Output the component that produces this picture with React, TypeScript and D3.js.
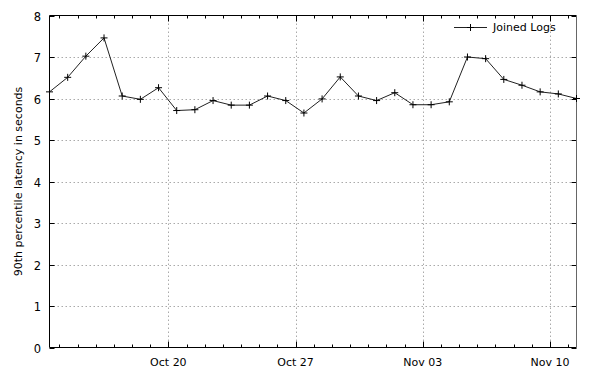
import React from "react";
import * as d3 from "d3";

const startDate = new Date(Date.UTC(2008, 9, 13, 11));
const latency = [6.16, 6.51, 7.02, 7.46, 6.06, 5.98, 6.26, 5.71, 5.73, 5.95, 5.84, 5.84, 6.06, 5.95, 5.65, 5.99, 6.52, 6.06, 5.95, 6.14, 5.85, 5.85, 5.92, 7.0, 6.96, 6.46, 6.32, 6.16, 6.11, 6.0];
const majorDates = ["2008-10-20", "2008-10-27", "2008-11-03", "2008-11-10"];
const yTicks = [0, 1, 2, 3, 4, 5, 6, 7, 8];
const seriesName = "Joined Logs";
const yLabel = "90th percentile latency in seconds";

const W = 594, H = 380;
const L = 49.5, R = 576.5, T = 15.5, B = 347.5;
const FONT = "DejaVu Sans, sans-serif";

export default function App() {
  const data = latency.map((v, i) => ({ d: d3.utcDay.offset(startDate, i), v }));
  const x = d3.scaleUtc().domain([data[0].d, data[data.length - 1].d]).range([L, R]);
  const y = d3.scaleLinear().domain([0, 8]).range([B, T]);
  const fmt = d3.utcFormat("%b %d");
  const minor = d3.utcDay.range(d3.utcDay.ceil(data[0].d), data[data.length - 1].d);
  const majors = majorDates.map((s) => new Date(s + "T00:00:00Z"));
  const line = d3.line<{ d: Date; v: number }>().x((p) => x(p.d)).y((p) => y(p.v));
  const cross = (cx: number, cy: number, k: string) => (
    <path key={k} d={`M${cx - 3.5},${cy}H${cx + 3.5}M${cx},${cy - 3.5}V${cy + 3.5}`} stroke="#000" strokeWidth={1} />
  );
  return (
    <svg width={W} height={H} style={{ position: "absolute", left: 0, top: 0, background: "#fff" }} fontFamily={FONT}>
      <rect width={W} height={H} fill="#fff" />
      {/* grid */}
      {yTicks.slice(1, -1).map((t) => (
        <line key={"gy" + t} x1={L} x2={R} y1={Math.round(y(t)) + 0.5} y2={Math.round(y(t)) + 0.5} stroke="#aaa" strokeDasharray="1.5,2.5" />
      ))}
      {majors.map((m, i) => (
        <line key={"gx" + i} x1={Math.round(x(m)) + 0.5} x2={Math.round(x(m)) + 0.5} y1={T} y2={B} stroke="#aaa" strokeDasharray="1.5,2.5" />
      ))}
      {/* minor ticks */}
      {minor.map((m, i) => {
        const px = Math.round(x(m)) + 0.5;
        const isMajor = majors.some((mm) => +mm === +m);
        const len = isMajor ? 6 : 3;
        return (
          <g key={"mt" + i}>
            <line x1={px} x2={px} y1={B} y2={B - len} stroke="#000" />
            <line x1={px} x2={px} y1={T} y2={T + len} stroke="#000" />
          </g>
        );
      })}
      {/* y ticks */}
      {yTicks.map((t) => {
        const py = Math.round(y(t)) + 0.5;
        return (
          <g key={"yt" + t}>
            <line x1={L} x2={L + 5} y1={py} y2={py} stroke="#000" />
            <line x1={R} x2={R - 5} y1={py} y2={py} stroke="#000" />
            <text x={41} y={py} dy="0.35em" textAnchor="end" fontSize={11.5} fill="#000">{t}</text>
          </g>
        );
      })}
      {majors.map((m, i) => (
        <text key={"xl" + i} x={x(m)} y={362} dy="0.35em" textAnchor="middle" fontSize={11} fill="#000">{fmt(m)}</text>
      ))}
      {/* border */}
      <line x1={L} x2={R} y1={T} y2={T} stroke="#000" />
      <line x1={L} x2={R} y1={B} y2={B} stroke="#000" />
      <line x1={L} x2={L} y1={T} y2={B} stroke="#000" />
      <line x1={R} x2={R} y1={T} y2={B} stroke="#666" />
      {/* series */}
      <path d={line(data) || ""} fill="none" stroke="#222" strokeWidth={1} />
      {data.map((p, i) => cross(x(p.d), y(p.v), "c" + i))}
      {/* legend */}
      <line x1={454} x2={487} y1={27.5} y2={27.5} stroke="#222" />
      {cross(470.5, 27.5, "lg")}
      <text x={493} y={27.5} dy="0.35em" fontSize={11} fill="#000">{seriesName}</text>
      {/* y label */}
      <text transform={`translate(18,${(T + B) / 2}) rotate(-90)`} textAnchor="middle" dy="0.35em" fontSize={11} fill="#000">{yLabel}</text>
    </svg>
  );
}
